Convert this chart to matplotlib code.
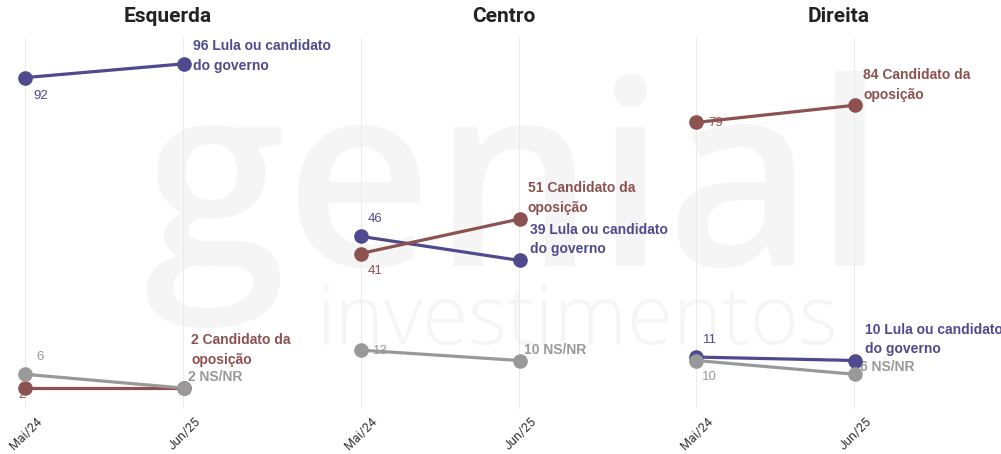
import matplotlib
matplotlib.use("Agg")
import matplotlib.pyplot as plt

# --- data -------------------------------------------------------------
periods = ["Mai/24", "Jun/25"]
panels = ["Esquerda", "Centro", "Direita"]

lula = [[92, 96], [46, 39], [11, 10]]
oposicao = [[2, 2], [41, 51], [79, 84]]
nsnr = [[6, 2], [13, 10], [10, 6]]

series_names = ["Lula ou candidato\ndo governo", "Candidato da\noposição", "NS/NR"]
series_values = [lula, oposicao, nsnr]
series_colors = ["#4f4a8e", "#8d5150", "#999999"]

# --- label placement: (dx right, dy down) in pixels from the first point --
start_offsets = [
    [(8, 18), (7, -17), (7, -17)],      # Lula
    [(-3, 7), (7, 17), (12, 1)],        # Oposição
    [(11, -17), (12, 1), (6, 17)],      # NS/NR
]
start_ha = [
    ["left", "left", "left"],
    ["center", "left", "left"],
    ["left", "left", "left"],
]
# (dx right, dy up) in pixels from the last point
end_offsets = [
    [(9, 8), (10, 21), (10, 21)],
    [(7, 38), (8, 21), (8, 20)],
    [(4, 11), (5, 11), (5, 7)],
]

W, H = 1001, 454
fig = plt.figure(figsize=(W / 100, H / 100), dpi=100)
fig.patch.set_facecolor("white")

# background brand mark
wm_color = "#f5f5f5"
fig.text(143 / W, 1 - 266 / H, "genial", fontsize=184, family="Open Sans",
         fontweight="semibold", color=wm_color, ha="left", va="baseline",
         zorder=-5)
fig.text(316 / W, 1 - 344 / H, "investimentos", fontsize=60, family="Open Sans",
         fontweight="light", color=wm_color, ha="left", va="baseline",
         zorder=-5)

panel_w = 335.5
ax_left0, ax_w = 25, 159
ax_top, ax_bot = 38, 409
px_per_unit = 3.45
zero_px = 395
ymin = (zero_px - ax_bot) / px_per_unit
ymax = (zero_px - ax_top) / px_per_unit

x = [0, 1]
for p, title in enumerate(panels):
    left = ax_left0 + panel_w * p
    ax = fig.add_axes([left / W, 1 - ax_bot / H, ax_w / W, (ax_bot - ax_top) / H])
    ax.set_facecolor("none")
    ax.set_xlim(0, 1)
    ax.set_ylim(ymin, ymax)
    for s in ax.spines.values():
        s.set_visible(False)
    ax.set_yticks([])
    ax.set_xticks([])
    for xv in x:
        ax.axvline(xv, color="#e6e6e6", lw=1.1, zorder=0)

    for k in range(len(periods)):
        ax.annotate(periods[k], xy=(x[k], 0), xycoords=("data", "axes fraction"),
                    xytext=(15, -11), textcoords="offset pixels",
                    ha="right", va="center", rotation=45, rotation_mode="anchor",
                    fontsize=9, family="Roboto", color="#333333",
                    annotation_clip=False)

    fig.text((panel_w * p + 168) / W, 1 - 17 / H, title, fontsize=15,
             family="Roboto", fontweight="bold", color="#222222",
             ha="center", va="center")

    for si, (vals, name, col) in enumerate(zip(series_values, series_names, series_colors)):
        v = vals[p]
        ax.plot(x, v, color=col, lw=2.3, marker="o", markersize=9.5,
                solid_capstyle="round", clip_on=False, zorder=3 + si)
        dx, dy = start_offsets[si][p]
        ax.annotate(str(v[0]), xy=(x[0], v[0]), xytext=(dx, -dy),
                    textcoords="offset pixels", ha=start_ha[si][p], va="center",
                    fontsize=9.5, family="Liberation Sans", color=col,
                    zorder=2, annotation_clip=False)
        ex, ey = end_offsets[si][p]
        ax.annotate(f"{v[1]} {name}", xy=(x[1], v[1]), xytext=(ex, ey),
                    textcoords="offset pixels", ha="left", va="center",
                    fontsize=10, family="Liberation Sans", fontweight="bold",
                    color=col, linespacing=1.5, zorder=2,
                    annotation_clip=False)

fig.savefig("out.png", dpi=100, facecolor="white")
